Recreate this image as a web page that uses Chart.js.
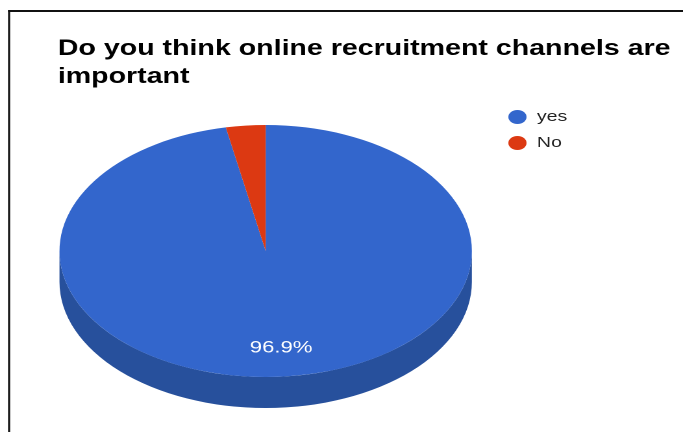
<!DOCTYPE html>
<html>
<head>
<meta charset="utf-8">
<script src="https://cdn.jsdelivr.net/npm/chart.js@4.4.1/dist/chart.umd.min.js"></script>
<style>
  html, body { margin: 0; padding: 0; background: #fff; overflow: hidden; }
  /* the chart is laid out narrow and widened horizontally */
  #stage { width: 526px; height: 432px; transform: scaleX(1.29848); transform-origin: 0 0; }
</style>
</head>
<body>
<div id="stage"><canvas id="c" width="526" height="432"></canvas></div>
<script>
const categories = ['yes', 'No'];
const shares = [96.9, 3.1];
const titleLines = ['Do you think online recruitment channels are', 'important'];

const sliceColors = ['#3366CC', '#DC3912'];
const sideColors = ['#27509C', '#A62B0E'];

const TILT = 0.7935;   // vertical squash of the pie face
const DEPTH = 31;      // thickness of the pie edge
const FONT = "'Liberation Sans', Arial, sans-serif";

function pieGeom(chart) {
  const arc = chart.getDatasetMeta(0).data[0];
  return { cx: arc.x, cy: arc.y, r: arc.outerRadius };
}

// thin black frame along the top and left
const frame = {
  id: 'frame',
  beforeDraw(chart) {
    const ctx = chart.ctx;
    ctx.save();
    ctx.fillStyle = '#111';
    ctx.fillRect(6.2, 10, 1.6, 440);
    ctx.fillRect(6.2, 10, 540, 2);
    ctx.restore();
  }
};

// two-line bold heading
const headline = {
  id: 'headline',
  afterDraw(chart) {
    const ctx = chart.ctx;
    ctx.save();
    ctx.font = 'bold 22px ' + FONT;
    ctx.fillStyle = '#000';
    ctx.textAlign = 'left';
    ctx.textBaseline = 'alphabetic';
    titleLines.forEach((line, i) => ctx.fillText(line, 44.5, 55 + i * 28));
    ctx.restore();
  }
};

// extrude the pie into a tilted disc and label the large slice
const pie3d = {
  id: 'pie3d',
  beforeDatasetsDraw(chart) {
    const ctx = chart.ctx;
    const meta = chart.getDatasetMeta(0);
    const { cx, cy, r } = pieGeom(chart);
    const ry = r * TILT;
    ctx.save();
    meta.data.forEach((arc, i) => {
      const a0 = arc.startAngle, a1 = arc.endAngle;
      [-2 * Math.PI, 0, 2 * Math.PI].forEach(off => {
        const lo = Math.max(a0, off), hi = Math.min(a1, Math.PI + off);
        if (hi <= lo) return;
        ctx.beginPath();
        ctx.ellipse(cx, cy, r, ry, 0, lo, hi);
        ctx.ellipse(cx, cy + DEPTH, r, ry, 0, hi, lo, true);
        ctx.closePath();
        ctx.fillStyle = sideColors[i];
        ctx.fill();
      });
    });
    ctx.restore();
    ctx.save();
    ctx.translate(cx, cy);
    ctx.scale(1, TILT);
    ctx.translate(-cx, -cy);
  },
  afterDatasetsDraw(chart) {
    const ctx = chart.ctx;
    ctx.restore();
    const meta = chart.getDatasetMeta(0);
    const { cx, cy, r } = pieGeom(chart);
    ctx.save();
    ctx.font = '17px ' + FONT;
    ctx.fillStyle = '#fff';
    ctx.textAlign = 'center';
    ctx.textBaseline = 'middle';
    meta.data.forEach((arc, i) => {
      if (shares[i] < 5) return;
      const mid = (arc.startAngle + arc.endAngle) / 2;
      const x = cx + 0.77 * r * Math.cos(mid);
      const y = cy + 0.77 * r * TILT * Math.sin(mid);
      ctx.fillText(shares[i].toFixed(1) + '%', x, y);
    });
    ctx.restore();
  }
};

// legend with round markers
const keyList = {
  id: 'keyList',
  afterDraw(chart) {
    const ctx = chart.ctx;
    const ds = chart.data.datasets[0];
    ctx.save();
    ctx.font = '15px ' + FONT;
    ctx.textAlign = 'left';
    ctx.textBaseline = 'middle';
    chart.data.labels.forEach((label, i) => {
      const y = 117 + i * 26;
      ctx.beginPath();
      ctx.arc(398.5, y, 7, 0, Math.PI * 2);
      ctx.fillStyle = ds.backgroundColor[i];
      ctx.fill();
      ctx.fillStyle = '#222';
      ctx.fillText(label, 413.5, y);
    });
    ctx.restore();
  }
};

new Chart(document.getElementById('c'), {
  type: 'pie',
  data: {
    labels: categories,
    datasets: [{
      data: shares,
      backgroundColor: sliceColors,
      borderWidth: 0,
      clip: false
    }]
  },
  options: {
    responsive: false,
    devicePixelRatio: 2,
    animation: false,
    events: [],
    layout: { padding: { left: 44.5, right: 161.3, top: 92.2, bottom: 22.2 } },
    plugins: {
      legend: { display: false },
      title: { display: false },
      tooltip: { enabled: false }
    }
  },
  plugins: [frame, headline, pie3d, keyList]
});
</script>
</body>
</html>
